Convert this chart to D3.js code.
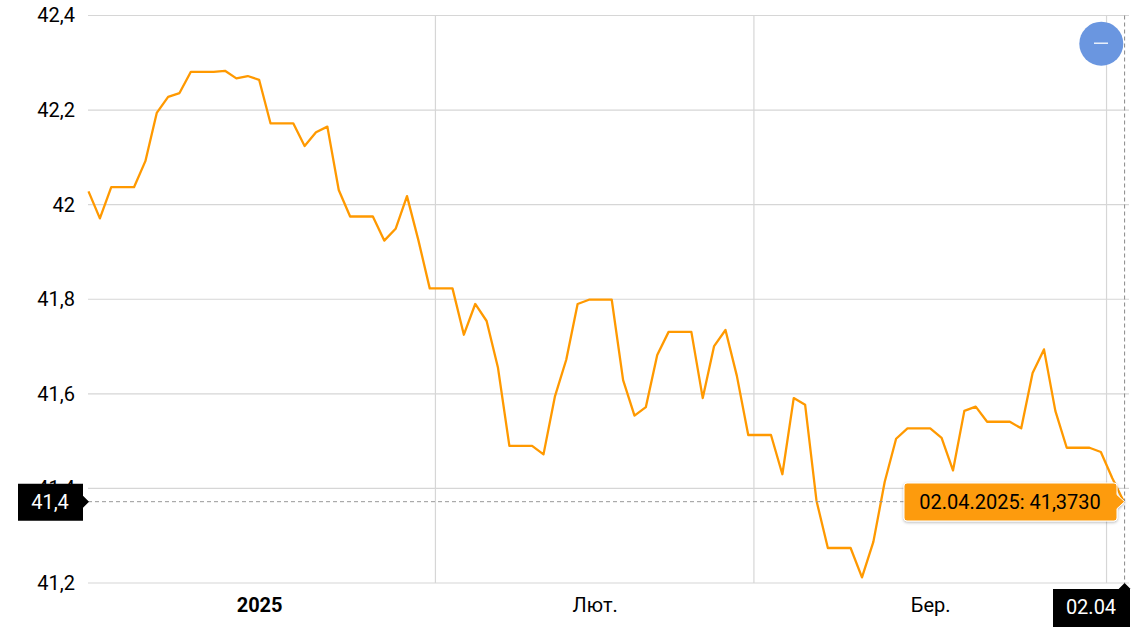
<!DOCTYPE html>
<html>
<head>
<meta charset="utf-8">
<script src="https://cdnjs.cloudflare.com/ajax/libs/d3/7.8.5/d3.min.js"></script>
<style>
html, body { margin: 0; padding: 0; background: #fff; }
svg { display: block; }
text { font-family: Roboto, sans-serif; font-size: 20px; fill: #000; }
</style>
</head>
<body>
<svg id="chart" width="1146" height="642"></svg>
<script>
var startDay = "2025-01-01T12:00:00Z";
var endDay = "2025-04-02T12:00:00Z";

// daily rate, one value per day from startDay
var rates = [
    42.028, 41.971, 42.037, 42.037, 42.037, 42.092, 42.194, 42.228, 42.236, 42.281,
    42.281, 42.281, 42.283, 42.267, 42.272, 42.264, 42.172, 42.172, 42.172, 42.124,
    42.153, 42.165, 42.031, 41.975, 41.975, 41.975, 41.924, 41.949, 42.018, 41.925,
    41.823, 41.823, 41.823, 41.725, 41.790, 41.754, 41.655, 41.490, 41.490, 41.490,
    41.472, 41.594, 41.672, 41.790, 41.799, 41.799, 41.799, 41.629, 41.554, 41.572,
    41.682, 41.731, 41.731, 41.731, 41.591, 41.701, 41.735, 41.638, 41.513, 41.513,
    41.513, 41.430, 41.591, 41.577, 41.374, 41.274, 41.274, 41.274, 41.212, 41.287,
    41.414, 41.505, 41.527, 41.527, 41.527, 41.507, 41.438, 41.564, 41.573, 41.541,
    41.541, 41.541, 41.527, 41.644, 41.694, 41.564, 41.486, 41.486, 41.486, 41.477,
    41.422, 41.373
];

var yTicks = [41.2, 41.4, 41.6, 41.8, 42, 42.2, 42.4];
var monthLines = ["2025-02-01", "2025-03-01", "2025-04-01"];
var monthLabels = ["2025", "Лют.", "Бер."];
var monthLabelDates = ["2025-01-16T12:00:00Z", "2025-02-15T00:00:00Z", "2025-03-16T12:00:00Z"];
var tooltipDate = "02.04.2025";
var tooltipValue = "41,3730";
var crossYLabel = "41,4";
var crossXLabel = "02.04";

var svg = d3.select("#chart");
var plotLeft = 88, plotRight = 1129, plotTop = 15.5, plotBottom = 583;

var x = d3.scaleUtc().domain([new Date(startDay), new Date(endDay)]).range([88.5, 1123.6]);
var y = d3.scaleLinear().domain([41.2, 42.4]).range([plotBottom, plotTop]);

var comma = function (v) { return String(v).replace(".", ","); };

var points = rates.map(function (v, i) {
    return { date: d3.utcDay.offset(new Date(startDay), i), value: v };
});

var defs = svg.append("defs");
var shadow = defs.append("filter").attr("id", "tipShadow")
    .attr("x", "-10%").attr("y", "-20%").attr("width", "120%").attr("height", "150%");
shadow.append("feDropShadow").attr("dx", 0).attr("dy", 1).attr("stdDeviation", 1.5)
    .attr("flood-color", "#000").attr("flood-opacity", 0.3);

// grid
svg.append("g").selectAll("line").data(yTicks).join("line")
    .attr("x1", plotLeft).attr("x2", plotRight)
    .attr("y1", function (d) { return y(d); }).attr("y2", function (d) { return y(d); })
    .attr("stroke", "#d6d6d6").attr("stroke-width", 1.2);

svg.append("g").selectAll("line").data(monthLines).join("line")
    .attr("x1", function (d) { return x(new Date(d)); }).attr("x2", function (d) { return x(new Date(d)); })
    .attr("y1", plotTop).attr("y2", plotBottom)
    .attr("stroke", "#d6d6d6").attr("stroke-width", 1.2);

// y axis
var yAxis = d3.axisLeft(y).tickValues(yTicks).tickFormat(comma).tickSize(0).tickPadding(0);
var yG = svg.append("g").attr("transform", "translate(75,0)").call(yAxis);
yG.select(".domain").remove();
yG.selectAll("text").style("font-size", "20px").attr("fill", "#000").attr("dy", "0.32em");

// x axis labels
var xAxis = d3.axisBottom(x)
    .tickValues(monthLabelDates.map(function (d) { return new Date(d); }))
    .tickFormat(function (d, i) { return monthLabels[i]; })
    .tickSize(0).tickPadding(0);
var xG = svg.append("g").attr("transform", "translate(0," + (plotBottom + 15) + ")").call(xAxis);
xG.select(".domain").remove();
xG.selectAll("text").style("font-size", "20px").attr("fill", "#000")
    .style("font-weight", function (d, i) { return i == 0 ? "bold" : "normal"; });

// line
var line = d3.line()
    .x(function (d) { return x(d.date); })
    .y(function (d) { return y(d.value); })
    .curve(d3.curveLinear);

svg.append("path").datum(points)
    .attr("fill", "none").attr("stroke", "#ff9900").attr("stroke-width", 2.3)
    .attr("stroke-linejoin", "round")
    .attr("d", line);

// crosshair on last point
var last = points[points.length - 1];
var cx = x(last.date) + 1, cy = y(last.value) + 0.5;

svg.append("line").attr("x1", plotLeft).attr("x2", cx).attr("y1", cy).attr("y2", cy)
    .attr("stroke", "#999").attr("stroke-width", 1).attr("stroke-dasharray", "4,3");
svg.append("line").attr("x1", cx).attr("x2", cx).attr("y1", plotTop).attr("y2", plotBottom)
    .attr("stroke", "#888").attr("stroke-width", 1).attr("stroke-dasharray", "4,3");

// black label on y axis
svg.append("path")
    .attr("d", "M18," + (cy - 18) + "H83V" + (cy - 6) + "L89," + cy + "L83," + (cy + 6) + "V" + (cy + 19) + "H18Z")
    .attr("fill", "#000");
svg.append("text").attr("x", 50).attr("y", cy).attr("dy", "0.36em")
    .attr("text-anchor", "middle").style("fill", "#fff").text(crossYLabel);

// black label on x axis
svg.append("path")
    .attr("d", "M1053,589H" + (cx - 6) + "L" + cx + ",583L" + (cx + 6) + ",589H1130V627H1053Z")
    .attr("fill", "#000");
svg.append("text").attr("x", 1091).attr("y", 614)
    .attr("text-anchor", "middle").style("fill", "#fff").text(crossXLabel);

// tooltip
svg.append("path")
    .attr("d", "M907,483H1114Q1117,483 1117,486V" + (cy - 7) + "L" + cx + "," + cy + "L1117," + (cy + 7) +
        "V518Q1117,521 1114,521H907Q904,521 904,518V486Q904,483 907,483Z")
    .attr("fill", "#fd9b0b").attr("stroke", "#fff").attr("stroke-width", 1)
    .attr("filter", "url(#tipShadow)");
svg.append("text").attr("x", 1010).attr("y", cy).attr("dy", "0.36em")
    .attr("text-anchor", "middle").text(tooltipDate + ": " + tooltipValue);

// zoom out button
svg.append("circle").attr("cx", 1101.3).attr("cy", 43.7).attr("r", 22).attr("fill", "#6a96e0");
svg.append("line").attr("x1", 1094).attr("x2", 1108).attr("y1", 43.2).attr("y2", 43.2)
    .attr("stroke", "#fff").attr("stroke-width", 1.3);
</script>
</body>
</html>
